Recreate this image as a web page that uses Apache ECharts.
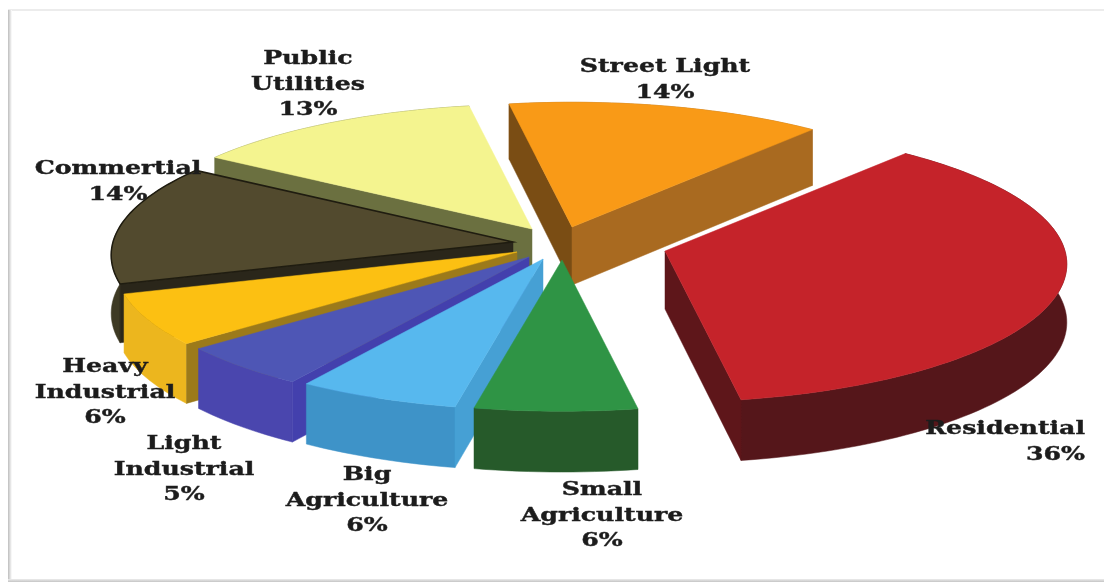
<!DOCTYPE html>
<html>
<head>
<meta charset="utf-8">
<style>html,body{margin:0;padding:0;background:#fff}#chart{width:1104px;height:582px}</style>
<script src="https://cdn.jsdelivr.net/npm/echarts@6/dist/echarts.min.js"></script>
</head>
<body>
<div id="chart"></div>
<script>
// Energy consumption shares, clockwise from the Residential slice
const categories = ['Residential', 'Small\nAgriculture', 'Big\nAgriculture', 'Light\nIndustrial',
  'Heavy\nIndustrial', 'Commertial', 'Public\nUtilities', 'Street Light'];
const shares = [36, 6, 6, 5, 6, 14, 13, 14];

// Exploded offset of each slice from the pie centre
const sliceShift = [[93, 6], [-10, 15], [-29, 14], [-43, 12], [-55, 7], [-59, -3], [-40, -16], [0, -18]];
// top face, outer wall, wall on the clockwise-start edge, wall on the clockwise-end edge
const sliceColors = [
  ['#c5232a', '#55161a', '#55161a', '#5e161a'],
  ['#2f9445', '#265a2a', '#265a2a', '#265a2a'],
  ['#57b8ee', '#3e93c8', '#46a0d4', '#3e93c8'],
  ['#4e56b5', '#4a46ae', '#4340ad', '#4a46ae'],
  ['#fcc012', '#ecb61e', '#9c7a1a', '#ecb61e'],
  ['#524a2e', '#3e3a24', '#2a261a', '#3e3a24'],
  ['#f4f48f', '#6b7040', '#6b7040', '#6b7040'],
  ['#f99a17', '#a96a20', '#7a4d14', '#a96a20']
];
// Back-to-front painting order
const paintOrder = [7, 6, 5, 0, 4, 3, 2, 1];
// Label anchor: x, y of first line, alignment
const labelAnchors = [
  [1085, 427, 'right'], [602, 488, 'center'], [367, 473, 'center'], [184, 442, 'center'],
  [105, 365, 'center'], [118, 167, 'center'], [308, 57, 'center'], [665, 65, 'center']
];

const centerX = 572, centerY = 245, radiusX = 400, radiusY = 138;
const perspective = 0.096, depth = 58, startDeg = 40.4;

const total = shares.reduce((a, b) => a + b, 0);
const starts = [];
shares.reduce((acc, v, i) => { starts[i] = acc; return acc + v / total * 360; }, startDeg);

// Projects a point on the pie plane to the screen, with nearer points drawn larger
function project(deg, r, shift) {
  const a = deg * Math.PI / 180, u = Math.sin(a) * r, v = -Math.cos(a) * r;
  const s = 1 + perspective * v;
  return { x: centerX + shift[0] + radiusX * u * s, y: centerY + shift[1] + radiusY * v * s, s };
}
const upper = p => [p.x, p.y];
const lower = p => [p.x, p.y + depth * (1 + (p.s - 1) / 2)];
const poly = (points, fill, stroke) => ({
  type: 'polygon',
  shape: { points },
  style: { fill, stroke: stroke || fill, lineWidth: stroke ? 1.5 : 0.5 }
});

// A cut wall shows only when the top face lies above its edge
function wallFacesViewer(apex, edge, inner) {
  const side = (edge.x - apex.x) * (inner.y - apex.y) - (edge.y - apex.y) * (inner.x - apex.x);
  return side * (edge.x - apex.x) < 0;
}

function renderSlice(params) {
  const i = paintOrder[params.dataIndex];
  const shift = sliceShift[i], col = sliceColors[i];
  const sweep = shares[i] / total * 360;
  const rim = [];
  const n = Math.ceil(sweep / 1.5);
  for (let k = 0; k <= n; k++) rim.push(project(starts[i] + sweep * k / n, 1, shift));
  const apex = project(0, 0, shift);
  const first = rim[0], last = rim[n], middle = rim[n >> 1];
  const children = [poly(rim.map(upper).concat(rim.slice().reverse().map(lower)), col[1])];
  if (wallFacesViewer(apex, first, middle)) {
    children.push(poly([upper(apex), upper(first), lower(first), lower(apex)], col[2]));
  }
  if (wallFacesViewer(apex, last, middle)) {
    children.push(poly([upper(apex), upper(last), lower(last), lower(apex)], col[3]));
  }
  children.push(poly([upper(apex)].concat(rim.map(upper)), col[0], i === 5 ? '#1f1c10' : null));
  return { type: 'group', children };
}

function renderLabel(params) {
  const i = params.dataIndex, a = labelAnchors[i];
  return {
    type: 'text',
    x: a[0], y: a[1] - 10,
    scaleX: 1.4,
    style: {
      text: categories[i] + '\n' + shares[i] + '%',
      x: 0, y: 0,
      align: a[2], verticalAlign: 'top',
      font: 'bold 18px "DejaVu Serif"',
      lineHeight: 25.5,
      fill: '#1c1c1c',
      stroke: '#1c1c1c',
      lineWidth: 0.4
    }
  };
}

const chart = echarts.init(document.getElementById('chart'), null, { renderer: 'canvas' });
chart.setOption({
  animation: false,
  backgroundColor: '#ffffff',
  graphic: [
    { type: 'rect', shape: { x: 8, y: 9, width: 1096, height: 2 }, style: { fill: '#ececec' }, silent: true },
    { type: 'rect', shape: { x: 8, y: 10, width: 4, height: 572 }, silent: true,
      style: { fill: new echarts.graphic.LinearGradient(0, 0, 1, 0, [{ offset: 0, color: '#bdbdbd' }, { offset: 1, color: '#ffffff' }]) } },
    { type: 'rect', shape: { x: 8, y: 579, width: 1096, height: 3 }, silent: true,
      style: { fill: new echarts.graphic.LinearGradient(0, 0, 0, 1, [{ offset: 0, color: '#ededed' }, { offset: 1, color: '#c4c4c4' }]) } }
  ],
  series: [
    { type: 'custom', coordinateSystem: 'none', silent: true, z: 2, renderItem: renderSlice,
      data: paintOrder.map(i => shares[i]) },
    { type: 'custom', coordinateSystem: 'none', silent: true, z: 3, renderItem: renderLabel,
      data: shares.slice() }
  ]
});
</script>
</body>
</html>
